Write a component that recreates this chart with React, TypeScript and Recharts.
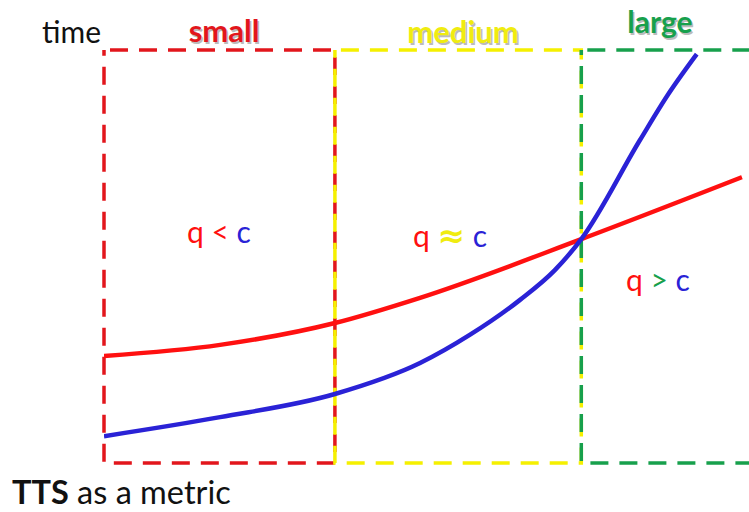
import { LineChart, Line, XAxis, YAxis, ReferenceArea } from "recharts";

// load (0-100) vs time (0-100)
const redCurve = [
  { x: 0, y: 25.9 },
  { x: 18, y: 28.6 },
  { x: 35.8, y: 33.9 },
  { x: 49, y: 40 },
  { x: 74, y: 54.2 },
  { x: 98.9, y: 69.2 },
];

const blueCurve = [
  { x: 0, y: 6.5 },
  { x: 18, y: 11.1 },
  { x: 35.8, y: 16.7 },
  { x: 49, y: 24.2 },
  { x: 56.7, y: 31 },
  { x: 64.5, y: 39.5 },
  { x: 69.9, y: 46.7 },
  { x: 74, y: 54.2 },
  { x: 83.1, y: 78.2 },
  { x: 87.4, y: 89.1 },
  { x: 91.9, y: 99 },
];

const zones = [
  { name: "small", from: 0, to: 35.8, color: "#e2161c" },
  { name: "medium", from: 35.8, to: 74, color: "#f5f000" },
  { name: "large", from: 74, to: 103, color: "#17a04c" },
];

const RED = "#ff1010";
const BLUE = "#2a22d6";
const YELLOW = "#f0ec10";
const GREEN = "#17a04c";
const FONT = "Lato, 'Open Sans', sans-serif";

export default function App() {
  return (
    <div style={{ position: "absolute", left: 0, top: 0, width: 749, height: 512, background: "#fff", overflow: "hidden" }}>
      <LineChart width={749} height={512} margin={{ top: 50, right: 0, bottom: 49, left: 104 }}>
        <XAxis type="number" dataKey="x" domain={[0, 100]} hide allowDataOverflow />
        <YAxis type="number" dataKey="y" domain={[0, 100]} hide />
        {zones.map((z) => (
          <ReferenceArea
            key={z.name}
            x1={z.from}
            x2={z.to}
            y1={0}
            y2={100}
            fill="none"
            fillOpacity={0}
            stroke={z.color}
            strokeWidth={3.5}
            strokeDasharray="18 11"
            strokeDashoffset={-6}
            ifOverflow="visible"
          />
        ))}
        <Line data={redCurve} dataKey="y" type="monotone" stroke={RED} strokeWidth={4.5} dot={false} isAnimationActive={false} />
        <Line data={blueCurve} dataKey="y" type="monotone" stroke={BLUE} strokeWidth={4.5} dot={false} isAnimationActive={false} />
      </LineChart>
      <svg width={749} height={512} style={{ position: "absolute", left: 0, top: 0, pointerEvents: "none" }}>
        <g fontFamily={FONT}>
          <text x={42} y={43} fontSize={30} fill="#111">time</text>
          <text x={224} y={42} fontSize={31} fontWeight="bold" fill="#bbb" textAnchor="middle" dx={1.5} dy={1.5}>small</text>
          <text x={224} y={42} fontSize={31} fontWeight="bold" fill="#e2161c" textAnchor="middle">small</text>
          <text x={463} y={43} fontSize={31} fontWeight="bold" fill="#bbb" textAnchor="middle" dx={1.5} dy={1.5}>medium</text>
          <text x={463} y={43} fontSize={31} fontWeight="bold" fill={YELLOW} textAnchor="middle">medium</text>
          <text x={660} y={33} fontSize={30} fontWeight="bold" fill="#bbb" textAnchor="middle" dx={1.5} dy={1.5}>large</text>
          <text x={660} y={33} fontSize={30} fontWeight="bold" fill={GREEN} textAnchor="middle">large</text>
          <text x={219} y={243} fontSize={30} textAnchor="middle">
            <tspan fill={RED}>q &lt;</tspan>
            <tspan fill={BLUE}> c</tspan>
          </text>
          <text x={450} y={247} fontSize={30} textAnchor="middle">
            <tspan fill={RED}>q </tspan>
            <tspan fill={YELLOW} fontFamily="'DejaVu Sans', sans-serif" fontWeight="bold" fontSize={33}>≈</tspan>
            <tspan fill={BLUE}> c</tspan>
          </text>
          <text x={658} y={291} fontSize={30} textAnchor="middle">
            <tspan fill={RED}>q </tspan>
            <tspan fill={GREEN}>&gt;</tspan>
            <tspan fill={BLUE}> c</tspan>
          </text>
          <text x={12} y={504} fontSize={32.5} fill="#111">
            <tspan fontWeight="bold">TTS</tspan>
            <tspan> as a metric</tspan>
          </text>
        </g>
      </svg>
    </div>
  );
}
